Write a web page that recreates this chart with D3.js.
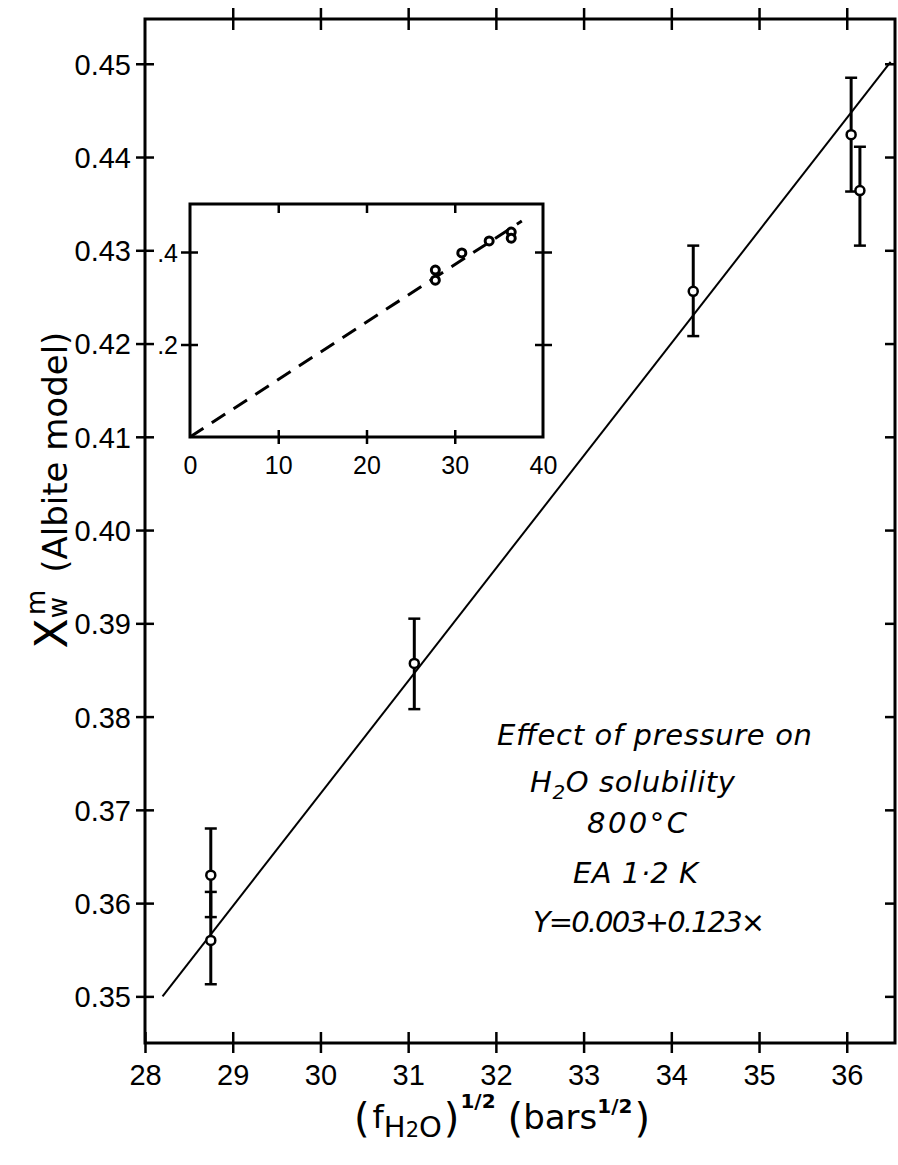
<!DOCTYPE html>
<html>
<head>
<meta charset="utf-8">
<script src="https://cdn.jsdelivr.net/npm/d3@7"></script>
<style>
  html, body { margin: 0; padding: 0; background: #fff; }
  svg { display: block; }
</style>
</head>
<body>
<div id="chart"></div>
<script>
// ---------------- data ----------------
const xTicks = [28, 29, 30, 31, 32, 33, 34, 35, 36];
const yTicks = [0.35, 0.36, 0.37, 0.38, 0.39, 0.40, 0.41, 0.42, 0.43, 0.44, 0.45];

const pointX = [28.75, 28.75, 31.07, 34.25, 36.05, 36.15];
const pointY = [0.363, 0.356, 0.3857, 0.4256, 0.4424, 0.4364];
const errLow = [0.3585, 0.3513, 0.3808, 0.4208, 0.4363, 0.4305];
const errHigh = [0.3680, 0.3612, 0.3905, 0.4305, 0.4485, 0.4411];

const fitX = [28.2, 36.5];
const fitY = [0.3500, 0.4502];

const insetXTicks = [0, 10, 20, 30, 40];
const insetYTicks = [0.2, 0.4];
const insetYLabels = [".2", ".4"];
const insetX = [27.8, 27.8, 30.8, 33.9, 36.4, 36.4];
const insetY = [0.361, 0.339, 0.398, 0.424, 0.443, 0.430];
const insetLineX = [0, 37.6];
const insetLineY = [0, 0.467];

const noteLines = ["Effect of pressure on", "H\u2082O solubility", "800°C", "EA 1·2 K", "Y=0.003+0.123×"];

// ---------------- layout ----------------
const W = 898, H = 1165;
const svg = d3.select("#chart").append("svg").attr("width", W).attr("height", H);
svg.append("rect").attr("width", W).attr("height", H).attr("fill", "#fff");

const L = 145, R = 895, T = 19, B = 1043;
const x = d3.scaleLinear().domain([28, 36.55]).range([L, R]);
const y = d3.scaleLinear().domain([0.345, 0.4548]).range([B, T]);

const ink = "#000";
const tickFont = "'Liberation Sans', Arial, sans-serif";
const textFont = "'DejaVu Sans', sans-serif";

// frame
svg.append("rect").attr("x", L).attr("y", T).attr("width", R - L).attr("height", B - T)
  .attr("fill", "none").attr("stroke", ink).attr("stroke-width", 3);

// left axis
const gl = svg.append("g").attr("transform", `translate(${L},0)`)
  .call(d3.axisLeft(y).tickValues(yTicks).tickSize(9).tickSizeOuter(0).tickPadding(5).tickFormat(d3.format(".2f")));
gl.select(".domain").remove();
gl.selectAll(".tick line").attr("x1", 9).attr("stroke", ink).attr("stroke-width", 2.5);
gl.selectAll(".tick text").attr("font-family", tickFont).attr("font-size", 29).attr("fill", ink).attr("dy", "0.36em");

// right axis (inward ticks)
const gr = svg.append("g").attr("transform", `translate(${R},0)`)
  .call(d3.axisLeft(y).tickValues(yTicks).tickSize(10).tickSizeOuter(0).tickFormat(""));
gr.select(".domain").remove();
gr.selectAll(".tick line").attr("stroke", ink).attr("stroke-width", 2.5);

// bottom axis
const gb = svg.append("g").attr("transform", `translate(0,${B})`)
  .call(d3.axisBottom(x).tickValues(xTicks).tickSize(10).tickSizeOuter(0).tickPadding(11).tickFormat(d3.format("d")));
gb.select(".domain").remove();
gb.selectAll(".tick line").attr("y1", -11).attr("stroke", ink).attr("stroke-width", 2.5);
gb.selectAll(".tick text").attr("font-family", tickFont).attr("font-size", 29).attr("fill", ink);

// top axis
const gt = svg.append("g").attr("transform", `translate(0,${T})`)
  .call(d3.axisTop(x).tickValues(xTicks.filter(d => d > 28)).tickSize(11).tickSizeOuter(0).tickFormat(""));
gt.select(".domain").remove();
gt.selectAll(".tick line").attr("y2", 11).attr("y1", -11).attr("stroke", ink).attr("stroke-width", 2.5);

// fit line
svg.append("path")
  .datum(fitX.map((d, i) => [d, fitY[i]]))
  .attr("d", d3.line().x(d => x(d[0])).y(d => y(d[1])))
  .attr("fill", "none").attr("stroke", ink).attr("stroke-width", 2);

// error bars
const pts = pointX.map((d, i) => ({x: d, y: pointY[i], lo: errLow[i], hi: errHigh[i]}));
const eb = svg.append("g");
eb.selectAll("line.v").data(pts).join("line").attr("class", "v")
  .attr("x1", d => x(d.x)).attr("x2", d => x(d.x))
  .attr("y1", d => y(d.lo)).attr("y2", d => y(d.hi))
  .attr("stroke", ink).attr("stroke-width", 3);
eb.selectAll("line.lo").data(pts).join("line").attr("class", "lo")
  .attr("x1", d => x(d.x) - 6).attr("x2", d => x(d.x) + 6)
  .attr("y1", d => y(d.lo)).attr("y2", d => y(d.lo))
  .attr("stroke", ink).attr("stroke-width", 2.5);
eb.selectAll("line.hi").data(pts).join("line").attr("class", "hi")
  .attr("x1", d => x(d.x) - 6).attr("x2", d => x(d.x) + 6)
  .attr("y1", d => y(d.hi)).attr("y2", d => y(d.hi))
  .attr("stroke", ink).attr("stroke-width", 2.5);
svg.append("g").selectAll("circle").data(pts).join("circle")
  .attr("cx", d => x(d.x)).attr("cy", d => y(d.y)).attr("r", 4.5)
  .attr("fill", "#fff").attr("stroke", ink).attr("stroke-width", 2.5);

// ---------------- inset ----------------
const iL = 190, iR = 543, iT = 204, iB = 437;
const ix = d3.scaleLinear().domain([0, 40]).range([iL, iR]);
const iy = d3.scaleLinear().domain([0, 0.5038]).range([iB, iT]);
const inset = svg.append("g");
inset.append("rect").attr("x", iL).attr("y", iT).attr("width", iR - iL).attr("height", iB - iT)
  .attr("fill", "#fff").attr("stroke", ink).attr("stroke-width", 3);

const ib = inset.append("g").attr("transform", `translate(0,${iB})`)
  .call(d3.axisBottom(ix).tickValues(insetXTicks).tickSize(7).tickSizeOuter(0).tickPadding(12).tickFormat(d3.format("d")));
ib.select(".domain").remove();
ib.selectAll(".tick line").attr("y1", -7).attr("stroke", ink).attr("stroke-width", 2.5)
  .attr("display", d => (d === 0 || d === 40) ? "none" : null);
ib.selectAll(".tick text").attr("font-family", tickFont).attr("font-size", 25).attr("fill", ink);

const it = inset.append("g").attr("transform", `translate(0,${iT})`)
  .call(d3.axisTop(ix).tickValues([10, 20, 30]).tickSize(6).tickSizeOuter(0).tickFormat(""));
it.select(".domain").remove();
it.selectAll(".tick line").attr("y2", 9).attr("stroke", ink).attr("stroke-width", 2.5);

const ilft = inset.append("g").attr("transform", `translate(${iL},0)`)
  .call(d3.axisLeft(iy).tickValues(insetYTicks).tickSize(9).tickSizeOuter(0).tickPadding(3)
    .tickFormat((d, i) => insetYLabels[i]));
ilft.select(".domain").remove();
ilft.selectAll(".tick line").attr("x1", 8).attr("stroke", ink).attr("stroke-width", 2.5);
ilft.selectAll(".tick text").attr("font-family", tickFont).attr("font-size", 25).attr("fill", ink).attr("dy", "0.36em");

const irt = inset.append("g").attr("transform", `translate(${iR},0)`)
  .call(d3.axisRight(iy).tickValues(insetYTicks).tickSize(9).tickSizeOuter(0).tickFormat(""));
irt.select(".domain").remove();
irt.selectAll(".tick line").attr("x1", -8).attr("stroke", ink).attr("stroke-width", 2.5);

inset.append("path")
  .datum(insetLineX.map((d, i) => [d, insetLineY[i]]))
  .attr("d", d3.line().x(d => ix(d[0])).y(d => iy(d[1])))
  .attr("fill", "none").attr("stroke", ink).attr("stroke-width", 3)
  .attr("stroke-dasharray", "16,10");
inset.append("g").selectAll("circle").data(insetX.map((d, i) => [d, insetY[i]])).join("circle")
  .attr("cx", d => ix(d[0])).attr("cy", d => iy(d[1])).attr("r", 4)
  .attr("fill", "#fff").attr("stroke", ink).attr("stroke-width", 3);

// ---------------- annotation ----------------
const noteX = [497, 530, 587, 573, 533];
const noteY = [745, 792, 833, 883, 932];
const noteW = [315, 205, 100, 125, 232];
const note = svg.append("g").attr("font-family", textFont).attr("font-style", "italic")
  .attr("font-size", 29).attr("fill", ink);
noteLines.forEach((t, i) => {
  const tx = note.append("text").attr("x", noteX[i]).attr("y", noteY[i]);
  if (i === 1) {
    tx.append("tspan").text("H");
    tx.append("tspan").attr("font-size", 20).attr("dy", 7).text("2");
    tx.append("tspan").attr("dy", -7).text("O solubility");
  } else {
    tx.text(t);
  }
  tx.attr("textLength", noteW[i]).attr("lengthAdjust", "spacing");
});

// ---------------- axis titles ----------------
const yl = svg.append("text")
  .attr("transform", "translate(67,490) rotate(-90)")
  .attr("text-anchor", "middle").attr("font-family", textFont).attr("fill", ink);
yl.append("tspan").attr("font-size", 44).text("X");
yl.append("tspan").attr("font-size", 26).attr("dy", 0).text("w");
yl.append("tspan").attr("font-size", 26).attr("dx", -18).attr("dy", -22).text("m");
yl.append("tspan").attr("font-size", 34).attr("dx", 6).attr("dy", 22).text(" (Albite model)");

const xl = svg.append("text")
  .attr("x", 502).attr("y", 1128)
  .attr("text-anchor", "middle").attr("font-family", textFont).attr("fill", ink);
xl.append("tspan").attr("font-size", 40).attr("dy", 4).text("(");
xl.append("tspan").attr("font-size", 32).attr("dx", 3).attr("dy", -4).text("f");
xl.append("tspan").attr("font-size", 29).attr("dy", 9).text("H");
xl.append("tspan").attr("font-size", 21).attr("dy", 0).text("2");
xl.append("tspan").attr("font-size", 29).attr("dy", 0).text("O");
xl.append("tspan").attr("font-size", 40).attr("dx", 2).attr("dy", -5).text(")");
xl.append("tspan").attr("font-size", 20).attr("font-weight", "bold").attr("dx", 1).attr("dy", -24).text("1/2");
xl.append("tspan").attr("font-size", 40).attr("dx", 12).attr("dy", 24).text("(");
xl.append("tspan").attr("font-size", 34).attr("dy", -3).text("bars");
xl.append("tspan").attr("font-size", 20).attr("font-weight", "bold").attr("dy", -16).text("1/2");
xl.append("tspan").attr("font-size", 40).attr("dx", 2).attr("dy", 19).text(")");
</script>
</body>
</html>
